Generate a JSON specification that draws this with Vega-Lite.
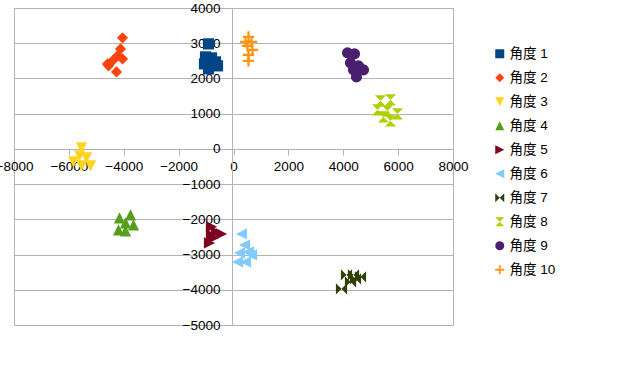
{
  "$schema": "https://vega.github.io/schema/vega-lite/v6.json",
  "width": 439,
  "height": 317,
  "autosize": {"type": "none"},
  "padding": {"left": 14, "top": 8, "right": 178, "bottom": 50},
  "background": "white",
  "config": {
    "view": {"stroke": "#b3b3b3", "strokeWidth": 1},
    "font": "Liberation Sans, Noto Sans CJK SC"
  },
  "data": {
    "values": [
      {"s": "角度 1", "x": -911, "y": 2981},
      {"s": "角度 1", "x": -802, "y": 2584},
      {"s": "角度 1", "x": -1057, "y": 2413},
      {"s": "角度 1", "x": -656, "y": 2470},
      {"s": "角度 1", "x": -911, "y": 2271},
      {"s": "角度 1", "x": -583, "y": 2357},
      {"s": "角度 1", "x": -1020, "y": 2612},
      {"s": "角度 2", "x": -4045, "y": 3152},
      {"s": "角度 2", "x": -4118, "y": 2839},
      {"s": "角度 2", "x": -4227, "y": 2641},
      {"s": "角度 2", "x": -4410, "y": 2499},
      {"s": "角度 2", "x": -4555, "y": 2357},
      {"s": "角度 2", "x": -4264, "y": 2186},
      {"s": "角度 2", "x": -4045, "y": 2555},
      {"s": "角度 2", "x": -4592, "y": 2413},
      {"s": "角度 3", "x": -5539, "y": 28},
      {"s": "角度 3", "x": -5612, "y": -199},
      {"s": "角度 3", "x": -5831, "y": -369},
      {"s": "角度 3", "x": -5539, "y": -483},
      {"s": "角度 3", "x": -5211, "y": -483},
      {"s": "角度 3", "x": -5357, "y": -256},
      {"s": "角度 4", "x": -4155, "y": -1959},
      {"s": "角度 4", "x": -3754, "y": -1874},
      {"s": "角度 4", "x": -3936, "y": -2101},
      {"s": "角度 4", "x": -4191, "y": -2300},
      {"s": "角度 4", "x": -3644, "y": -2158},
      {"s": "角度 4", "x": -3936, "y": -2328},
      {"s": "角度 5", "x": -802, "y": -2214},
      {"s": "角度 5", "x": -620, "y": -2357},
      {"s": "角度 5", "x": -729, "y": -2527},
      {"s": "角度 5", "x": -875, "y": -2669},
      {"s": "角度 5", "x": -437, "y": -2413},
      {"s": "角度 5", "x": -802, "y": -2442},
      {"s": "角度 6", "x": 292, "y": -2413},
      {"s": "角度 6", "x": 401, "y": -2726},
      {"s": "角度 6", "x": 219, "y": -2953},
      {"s": "角度 6", "x": 656, "y": -3010},
      {"s": "角度 6", "x": 146, "y": -3208},
      {"s": "角度 6", "x": 437, "y": -3208},
      {"s": "角度 6", "x": 547, "y": -2924},
      {"s": "角度 7", "x": 4118, "y": -3578},
      {"s": "角度 7", "x": 4373, "y": -3578},
      {"s": "角度 7", "x": 4628, "y": -3634},
      {"s": "角度 7", "x": 4264, "y": -3776},
      {"s": "角度 7", "x": 3936, "y": -3975},
      {"s": "角度 7", "x": 4446, "y": -3691},
      {"s": "角度 8", "x": 5357, "y": 1363},
      {"s": "角度 8", "x": 5722, "y": 1391},
      {"s": "角度 8", "x": 5248, "y": 1107},
      {"s": "角度 8", "x": 5612, "y": 1079},
      {"s": "角度 8", "x": 5977, "y": 994},
      {"s": "角度 8", "x": 5722, "y": 795},
      {"s": "角度 8", "x": 5466, "y": 909},
      {"s": "角度 9", "x": 4155, "y": 2726},
      {"s": "角度 9", "x": 4410, "y": 2697},
      {"s": "角度 9", "x": 4264, "y": 2442},
      {"s": "角度 9", "x": 4373, "y": 2243},
      {"s": "角度 9", "x": 4738, "y": 2243},
      {"s": "角度 9", "x": 4482, "y": 2044},
      {"s": "角度 9", "x": 4555, "y": 2357},
      {"s": "角度 10", "x": 547, "y": 3180},
      {"s": "角度 10", "x": 656, "y": 3038},
      {"s": "角度 10", "x": 510, "y": 2924},
      {"s": "角度 10", "x": 692, "y": 2811},
      {"s": "角度 10", "x": 547, "y": 2669},
      {"s": "角度 10", "x": 547, "y": 2499},
      {"s": "角度 10", "x": 437, "y": 3038}
    ]
  },
  "mark": {"type": "point", "filled": true, "opacity": 1, "size": 125, "strokeWidth": 0},
  "encoding": {
    "x": {
      "field": "x", "type": "quantitative",
      "scale": {"domain": [-8000, 8000], "nice": false, "zero": false},
      "axis": {
        "title": null, "orient": "bottom", "offset": -176, "format": "d",
        "values": [-8000, -6000, -4000, -2000, 0, 2000, 4000, 6000, 8000],
        "grid": false, "domainColor": "#b3b3b3", "tickColor": "#b3b3b3",
        "tickSize": 6, "labelPadding": 4, "labelFontSize": 13.5, "labelColor": "#000000",
        "labelFont": "Liberation Sans", "labelOverlap": false, "labelBound": false, "labelFlush": false
      }
    },
    "y": {
      "field": "y", "type": "quantitative",
      "scale": {"domain": [-5000, 4000], "nice": false, "zero": false},
      "axis": {
        "title": null, "orient": "left", "offset": -218, "format": "d",
        "values": [-5000, -4000, -3000, -2000, -1000, 0, 1000, 2000, 3000, 4000],
        "grid": true, "gridColor": "#b3b3b3", "gridWidth": 1,
        "domainColor": "#b3b3b3", "tickColor": "#b3b3b3", "tickSize": 5,
        "labelPadding": 7, "labelFontSize": 13.5, "labelColor": "#000000",
        "labelFont": "Liberation Sans", "labelOverlap": false, "labelBound": false, "labelFlush": false
      }
    },
    "color": {
      "field": "s", "type": "nominal",
      "scale": {
        "domain": ["角度 1", "角度 2", "角度 3", "角度 4", "角度 5", "角度 6", "角度 7", "角度 8", "角度 9", "角度 10"],
        "range": ["#004586", "#ff420e", "#ffd320", "#579d1c", "#7e0021", "#83caff", "#314004", "#aecf00", "#4b1f6f", "#ff950e"]
      },
      "legend": {
        "title": null, "orient": "none", "legendX": 479, "legendY": 39,
        "padding": 0, "labelFontSize": 13.5, "labelColor": "#000000",
        "labelFont": "Liberation Sans, Noto Sans CJK SC",
        "symbolSize": 81, "symbolStrokeWidth": 0, "labelOffset": 3, "rowPadding": 9,
        "symbolOpacity": 1
      }
    },
    "shape": {
      "field": "s", "type": "nominal",
      "scale": {
        "domain": ["角度 1", "角度 2", "角度 3", "角度 4", "角度 5", "角度 6", "角度 7", "角度 8", "角度 9", "角度 10"],
        "range": [
          "M-1,-1H1V1H-1Z",
          "M0,-1L1,0L0,1L-1,0Z",
          "M-1,-1L1,-1L0,1Z",
          "M-1,1L1,1L0,-1Z",
          "M-1,-1L1,0L-1,1Z",
          "M1,-1L-1,0L1,1Z",
          "M-1,-1L1,1L1,-1L-1,1Z",
          "M-1,-1L1,-1L-1,1L1,1Z",
          "circle",
          "M-0.2,-1H0.2V-0.2H1V0.2H0.2V1H-0.2V0.2H-1V-0.2H-0.2Z"
        ]
      },
      "legend": null
    }
  }
}
